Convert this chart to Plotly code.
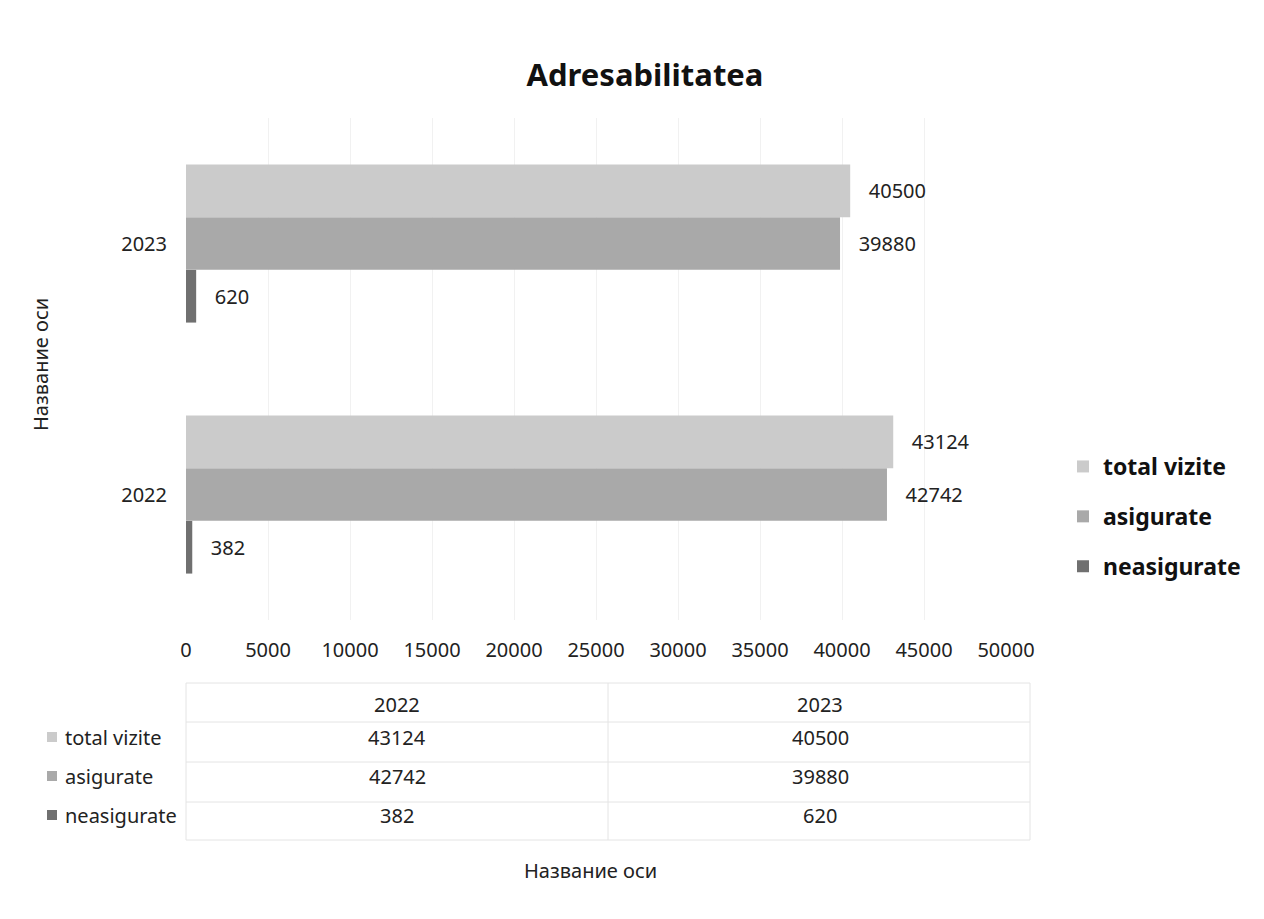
import plotly.graph_objects as go

years = ["2022", "2023"]
series_names = ["total vizite", "asigurate", "neasigurate"]
total_vizite = [43124, 40500]
asigurate = [42742, 39880]
neasigurate = [382, 620]
x_ticks = [0, 5000, 10000, 15000, 20000, 25000, 30000, 35000, 40000, 45000, 50000]

values = {"total vizite": total_vizite, "asigurate": asigurate, "neasigurate": neasigurate}
colors = {"total vizite": "#cbcbcb", "asigurate": "#a9a9a9", "neasigurate": "#707070"}

FONT = "Noto Sans"
OFF = 8  # page body margin
W, H = 1264, 919
# desired page-pixel positions of plot area
L, R, T, B = 186, 1006, 118, 620

def px_x(px):
    return (px - L) / (R - L)

def px_y(py):
    return (B - py) / (B - T)

fig = go.Figure()
for name in ["neasigurate", "asigurate", "total vizite"]:
    fig.add_trace(go.Bar(
        y=years, x=values[name], orientation="h", name=name,
        marker=dict(color=colors[name], line=dict(width=0)),
        texttemplate="   %{x:d}", textposition="outside",
        textfont=dict(family=FONT, size=20, color="#222"),
        cliponaxis=False, legendgroup=name,
        legendrank=series_names.index(name) + 1,
    ))

shapes = []
line_col = "#e4e4e4"
for py in [683, 722, 762, 802, 840]:
    shapes.append(dict(type="line", xref="paper", yref="paper", x0=px_x(186), x1=px_x(1030),
                       y0=px_y(py), y1=px_y(py), line=dict(color=line_col, width=1)))
for px in [186, 608, 1030]:
    shapes.append(dict(type="line", xref="paper", yref="paper", x0=px_x(px), x1=px_x(px),
                       y0=px_y(683), y1=px_y(840), line=dict(color=line_col, width=1)))

annotations = []
col_centers = [397, 820]
header_y = 704
row_y = [737, 776, 815]
tfont = dict(family=FONT, size=20, color="#222")
for j, yr in enumerate(years):
    annotations.append(dict(xref="paper", yref="paper", x=px_x(col_centers[j]), y=px_y(header_y),
                             xanchor="center", yanchor="middle", text=yr, showarrow=False, font=tfont))
for i, name in enumerate(series_names):
    annotations.append(dict(xref="paper", yref="paper", x=px_x(63), y=px_y(row_y[i]), xanchor="left",
                             yanchor="middle", text=name, showarrow=False, font=tfont))
    shapes.append(dict(type="rect", xref="paper", yref="paper",
                       x0=px_x(47), x1=px_x(57), y0=px_y(row_y[i] - 5), y1=px_y(row_y[i] + 5),
                       fillcolor=colors[name], line=dict(width=0)))
    for j in range(len(years)):
        annotations.append(dict(xref="paper", yref="paper", x=px_x(col_centers[j]), y=px_y(row_y[i]),
                                 xanchor="center", yanchor="middle",
                                 text=str(values[name][j]), showarrow=False, font=tfont))

annotations.append(dict(xref="paper", yref="paper", x=px_x(590), y=px_y(870), xanchor="center",
                        yanchor="middle", text="Название оси", showarrow=False,
                        font=dict(family=FONT, size=20, color="#222")))
annotations.append(dict(xref="paper", yref="paper", x=px_x(40), y=px_y(365), xanchor="center",
                        yanchor="middle", text="Название оси", textangle=-90, showarrow=False,
                        font=dict(family=FONT, size=20, color="#222")))

fig.update_layout(
    width=W, height=H,
    margin=dict(l=L - OFF, r=W - (R - OFF), t=T - OFF, b=H - (B - OFF)),
    paper_bgcolor="white", plot_bgcolor="white",
    barmode="group", bargap=0.37, bargroupgap=0,
    title=dict(text="<b>Adresabilitatea</b>", x=(645 - OFF) / W, y=1 - (75 - OFF) / H,
               xref="container", yref="container",
               xanchor="center", yanchor="middle", font=dict(family=FONT, size=31, color="#111")),
    xaxis=dict(range=[0, 50000], tickvals=x_ticks, ticktext=[str(t) for t in x_ticks],
               showgrid=True, gridcolor="#f1f1f1", zeroline=False, showline=False,
               tickfont=dict(family=FONT, size=20, color="#222"), ticklabelstandoff=16),
    yaxis=dict(type="category", categoryorder="array", categoryarray=years, showgrid=False,
               showline=False, ticks="", tickfont=dict(family=FONT, size=20, color="#222"),
               ticklabelstandoff=18),
    legend=dict(x=px_x(1063), y=px_y(445), yanchor="top", xanchor="left",
                traceorder="grouped", tracegroupgap=17,
                font=dict(family=FONT, size=23, color="#111", weight="bold"),
                itemwidth=30),
    shapes=shapes, annotations=annotations,
    font=dict(family=FONT),
)

fig.write_html("out.html")
